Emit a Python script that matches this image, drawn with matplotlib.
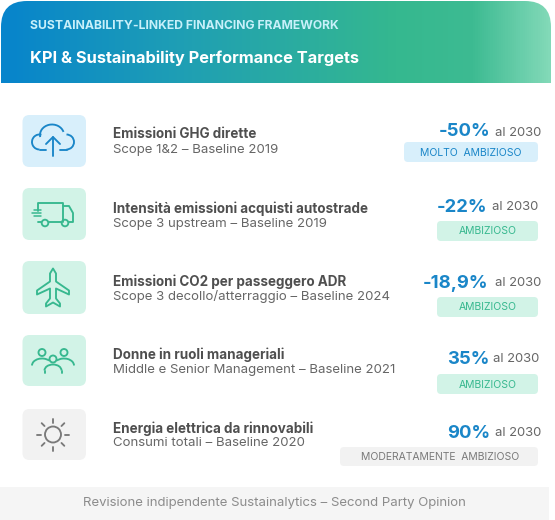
import numpy as np
import matplotlib
matplotlib.use("Agg")
import matplotlib.pyplot as plt
from matplotlib.patches import FancyBboxPatch, Circle, Polygon, Arc, PathPatch
from matplotlib.path import Path
from matplotlib.colors import LinearSegmentedColormap

header_small = "SUSTAINABILITY-LINKED FINANCING FRAMEWORK"
header_big = "KPI & Sustainability Performance Targets"
footer = "Revisione indipendente Sustainalytics – Second Party Opinion"
titles = ["Emissioni GHG dirette", "Intensità emissioni acquisti autostrade",
          "Emissioni CO2 per passeggero ADR", "Donne in ruoli manageriali",
          "Energia elettrica da rinnovabili"]
subs = ["Scope 1&2 – Baseline 2019", "Scope 3 upstream – Baseline 2019",
        "Scope 3 decollo/atterraggio – Baseline 2024",
        "Middle e Senior Management – Baseline 2021",
        "Consumi totali – Baseline 2020"]
targets = ["-50%", "-22%", "-18,9%", "35%", "90%"]
labels = ["MOLTO  AMBIZIOSO", "AMBIZIOSO", "AMBIZIOSO", "AMBIZIOSO",
          "MODERATAMENTE  AMBIZIOSO"]

FONT = "Inter"
BLUE, GREEN, GREY = "#1a86c8", "#37b88f", "#7a7a7a"
styles = {"b": ("#d8effb", BLUE), "g": ("#d2f3e7", GREEN), "n": ("#f2f2f2", GREY)}
row_style = ["b", "g", "g", "g", "n"]
tile_y = [(115, 167), (188, 240), (261, 314), (335, 386), (409, 460)]
title_y = [134.5, 208.5, 281.5, 354.5, 428.5]
sub_y = [149.5, 223.5, 296.5, 369.5, 443.5]
pct_y = [132, 207, 283, 359, 433]
al_right = [541, 538, 541, 539, 541]
pct_right = [490, 487, 488, 489, 490]
pill = [(404, 142, 162), (437, 221, 241), (437, 297, 317), (437, 374, 394), (340, 447, 466)]

fig = plt.figure(figsize=(5.55, 5.2), dpi=100)
ax = fig.add_axes([0, 0, 1, 1])
ax.set_xlim(0, 555)
ax.set_ylim(520, 0)
ax.axis("off")


def rbox(x0, y0, x1, y1, r, fc, z=1):
    p = FancyBboxPatch((x0 + r, y0 + r), x1 - x0 - 2 * r, y1 - y0 - 2 * r,
                       boxstyle=f"round,pad={r},rounding_size={r}", fc=fc, ec="none", zorder=z)
    ax.add_patch(p)
    return p


# Header with gradient and rounded top corners
cmap = LinearSegmentedColormap.from_list("h", [(0, "#0784cc"), (0.33, "#1f9fb4"),
                                               (0.72, "#35b88f"), (0.86, "#3dbb92"), (1, "#82d9b8")])
im = ax.imshow(np.linspace(0, 1, 550)[None, :], extent=(1, 551, 83, 1), cmap=cmap,
               aspect="auto", zorder=1)
ax.set_xlim(0, 555)
ax.set_ylim(520, 0)
r = 26
verts = [(1, 83), (1, 1 + r), (1, 1), (1 + r, 1), (551 - r, 1), (551, 1), (551, 1 + r), (551, 83), (1, 83)]
codes = [Path.MOVETO, Path.LINETO, Path.CURVE3, Path.CURVE3, Path.LINETO, Path.CURVE3, Path.CURVE3,
         Path.LINETO, Path.CLOSEPOLY]
clip = PathPatch(Path(verts, codes), transform=ax.transData, fc="none", ec="none")
ax.add_patch(clip)
im.set_clip_path(clip)

ax.text(30.5, 26, header_small, color="#c8f0fa", fontsize=8.78, fontweight="bold", family=FONT,
        va="center", ha="left", zorder=3)
ax.text(30.5, 58, header_big, color="white", fontsize=11.8, fontweight="bold", family=FONT,
        va="center", ha="left", zorder=3)

# Footer
ax.add_patch(plt.Rectangle((0, 487), 549, 33, fc="#f5f5f5", ec="none", zorder=1))
ax.text(274, 503, footer, color="#8c8c8c", fontsize=9.5, family=FONT, va="center", ha="center", zorder=3)

LW = 1.35


def line(xs, ys, c, lw=LW):
    ax.plot(xs, ys, color=c, lw=lw, solid_capstyle="round", solid_joinstyle="round", zorder=3)


def arc(cx, cy, w, h, t1, t2, c, lw=LW):
    ax.add_patch(Arc((cx, cy), w, h, theta1=t1, theta2=t2, color=c, lw=lw, zorder=3))


def circ(cx, cy, rad, c, lw=LW):
    ax.add_patch(Circle((cx, cy), rad, fc="none", ec=c, lw=lw, zorder=3))


def poly(pts, c, lw=LW):
    ax.add_patch(Polygon(pts, closed=True, fc="none", ec=c, lw=lw, joinstyle="round", zorder=3))


# The y axis is inverted: arc angles run clockwise on screen, 180-360 is the upper half.
def icon_cloud(cx, cy, c):
    arc(cx - 13.5, cy + 1, 15, 15, 90, 285, c)
    arc(cx - 1, cy - 6, 24, 21, 170, 345, c)
    arc(cx + 13.5, cy + 1, 15, 15, 270, 90, c)
    line([cx - 13.5, cx - 7], [cy + 8.5, cy + 8.5], c)
    line([cx + 7, cx + 13.5], [cy + 8.5, cy + 8.5], c)
    line([cx, cx], [cy - 4, cy + 15], c)
    line([cx - 7, cx, cx + 7], [cy + 3, cy - 4, cy + 3], c)


def icon_truck(cx, cy, c):
    line([cx - 15, cx - 15, cx + 10, cx + 10], [cy - 3, cy - 11, cy - 11, cy + 8], c)
    line([cx + 10, cx + 16, cx + 20, cx + 20, cx + 16], [cy - 8, cy - 8, cy - 1, cy + 8, cy + 8], c)
    circ(cx - 8, cy + 9, 3.3, c)
    circ(cx + 12, cy + 9, 3.3, c)
    line([cx - 15, cx - 12], [cy + 8, cy + 8], c)
    line([cx - 4, cx + 8], [cy + 8, cy + 8], c)
    for dy, x0 in zip([-4, -1, 2], [-19, -21, -19]):
        line([cx + x0, cx - 12], [cy + dy, cy + dy], c, 1.1)


def icon_plane(cx, cy, c):
    poly([(cx, cy - 19), (cx + 3, cy - 14), (cx + 3, cy - 6), (cx + 16, cy + 3), (cx + 16, cy + 7),
          (cx + 3, cy + 1), (cx + 3, cy + 11), (cx + 7, cy + 16), (cx + 7, cy + 19), (cx, cy + 15),
          (cx - 7, cy + 19), (cx - 7, cy + 16), (cx - 3, cy + 11), (cx - 3, cy + 1),
          (cx - 16, cy + 7), (cx - 16, cy + 3), (cx - 3, cy - 6), (cx - 3, cy - 14)], c)


def icon_people(cx, cy, c):
    for dx, dy in [(-11, -8), (11, -8), (0, -1.5)]:
        circ(cx + dx, cy + dy, 3.5, c)
    arc(cx - 11, cy + 5, 20, 14, 180, 325, c)
    arc(cx + 11, cy + 5, 20, 14, 215, 360, c)
    arc(cx, cy + 10, 17, 12, 180, 360, c)
    line([cx - 8.5, cx - 8.5], [cy + 10, cy + 12], c)
    line([cx + 8.5, cx + 8.5], [cy + 10, cy + 12], c)


def icon_sun(cx, cy, c):
    circ(cx, cy, 8, c)
    for a in np.deg2rad(np.arange(0, 360, 45)):
        line([cx + 12 * np.cos(a), cx + 16 * np.cos(a)], [cy + 12 * np.sin(a), cy + 16 * np.sin(a)], c)


icons = [icon_cloud, icon_truck, icon_plane, icon_people, icon_sun]

for i in range(5):
    bg, fg = styles[row_style[i]]
    y0, y1 = tile_y[i]
    rbox(22.5, y0, 86, y1, 7, bg, 2)
    icons[i](53, (y0 + y1) / 2, fg)
    ax.text(113, title_y[i], titles[i], color="#4f4f4f", fontsize=9.7, fontweight="bold", family=FONT,
            va="center", ha="left", zorder=3)
    ax.text(113, sub_y[i], subs[i], color="#666666", fontsize=9.5, family=FONT,
            va="center", ha="left", zorder=3)
    ax.text(pct_right[i], pct_y[i], targets[i], color=BLUE, fontsize=13.3, fontweight="bold", family=FONT,
            va="center", ha="right", zorder=3)
    ax.text(al_right[i], pct_y[i] + 0.5, "al 2030", color="#666666", fontsize=9.4, family=FONT,
            va="center", ha="right", zorder=3)
    px, py0, py1 = pill[i]
    rbox(px, py0, 538, py1, 4, bg, 2)
    ax.text((px + 538) / 2 + (1 if i == 4 else 0), (py0 + py1) / 2 + 0.5, labels[i], color=fg, fontsize=7.5,
            family=FONT, va="center", ha="center", zorder=3)

fig.savefig("out.png", dpi=100, facecolor="white")
